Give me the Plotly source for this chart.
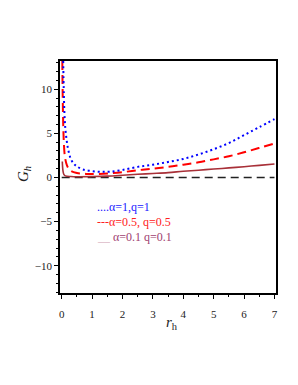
import plotly.graph_objects as go

# Blue dotted: alpha=1, q=1
r_blue = [0.05, 0.07, 0.1, 0.13, 0.2, 0.3, 0.4, 0.5, 0.7, 1.0, 1.3, 1.6, 2.0, 2.5, 3.0, 3.5, 4.0, 4.5, 5.0, 5.5, 6.0, 6.5, 7.0]
g_blue = [13.2, 9.5, 6.5, 5.2, 3.4, 2.1, 1.55, 1.25, 0.9, 0.72, 0.64, 0.66, 0.85, 1.2, 1.45, 1.75, 2.1, 2.6, 3.2, 3.9, 4.8, 5.7, 6.6]

# Red dashed: alpha=0.5, q=0.5
r_red = [0.02, 0.03, 0.05, 0.07, 0.1, 0.15, 0.2, 0.3, 0.5, 0.8, 1.0, 1.5, 2.0, 2.5, 3.0, 3.5, 4.0, 4.5, 5.0, 5.5, 6.0, 6.5, 7.0]
g_red = [13.2, 10.0, 6.0, 4.0, 2.5, 1.6, 1.15, 0.75, 0.5, 0.4, 0.38, 0.45, 0.6, 0.82, 1.0, 1.2, 1.45, 1.72, 2.05, 2.4, 2.85, 3.35, 3.85]

# Solid dark red: alpha=0.1, q=0.1
r_sol = [0.02, 0.04, 0.07, 0.12, 0.3, 0.6, 1.0, 1.5, 2.0, 2.5, 3.0, 3.5, 4.0, 4.5, 5.0, 5.5, 6.0, 6.5, 7.0]
g_sol = [1.8, 0.8, 0.35, 0.18, 0.1, 0.08, 0.1, 0.15, 0.25, 0.36, 0.45, 0.55, 0.7, 0.82, 0.95, 1.08, 1.22, 1.37, 1.52]

# Reference zero line
r_zero = [0, 7]
g_zero = [0, 0]

x_ticks = [0, 1, 2, 3, 4, 5, 6, 7]
y_ticks = [-10, -5, 0, 5, 10]

legend_labels = ["....α=1,q=1", "---α=0.5, q=0.5", "α=0.1 q=0.1"]

serif = "Times New Roman"

# page has 8px body margin; figure is sized to fill the rest
OFF = 8
W, H = 298 - OFF, 385 - OFF
L, R, T, B = 60 - OFF, 22, 61 - OFF, 92

fig = go.Figure()
fig.add_trace(go.Scatter(x=r_zero, y=g_zero, mode="lines",
                         line=dict(color="#222222", width=1.6, dash="8px,5px")))
fig.add_trace(go.Scatter(x=r_sol, y=g_sol, mode="lines", line_shape="spline",
                         line=dict(color="#a83038", width=1.6)))
fig.add_trace(go.Scatter(x=r_red, y=g_red, mode="lines", line_shape="spline",
                         line=dict(color="#ff0000", width=2, dash="9px,5px")))
fig.add_trace(go.Scatter(x=r_blue, y=g_blue, mode="lines", line_shape="spline",
                         line=dict(color="#0000ff", width=2, dash="2px,3px")))

fig.update_layout(
    width=W, height=H,
    margin=dict(l=L, r=R, t=T, b=B),
    paper_bgcolor="white", plot_bgcolor="white",
    showlegend=False,
    font=dict(family=serif, size=11, color="#222222"),
    xaxis=dict(range=[-0.056, 7.05], tickvals=x_ticks, showgrid=False, zeroline=False,
               showline=True, linecolor="black", linewidth=1.5, mirror=True,
               ticks="outside", ticklen=4, tickcolor="black", ticklabelstandoff=6,
               tickfont=dict(family=serif, size=11),
               minor=dict(dtick=0.5, tick0=0, ticks="outside", ticklen=2, tickcolor="black")),
    yaxis=dict(range=[-13.1, 13.2], tickvals=y_ticks, showgrid=False, zeroline=False,
               showline=True, linecolor="black", linewidth=1.5, mirror=True,
               ticks="outside", ticklen=4, tickcolor="black",
               tickfont=dict(family=serif, size=11),
               minor=dict(dtick=1, tick0=0, ticks="outside", ticklen=2, tickcolor="black")),
)

legend_y = [-3.3, -5.05, -6.7]
fig.add_annotation(x=1.1, y=legend_y[0], xref="x", yref="y", text=legend_labels[0],
                   showarrow=False, xanchor="left", font=dict(family=serif, size=12, color="#2020ff"))
fig.add_annotation(x=1.1, y=legend_y[1], xref="x", yref="y", text=legend_labels[1],
                   showarrow=False, xanchor="left", font=dict(family=serif, size=12, color="#ff2020"))
fig.add_annotation(x=1.1, y=legend_y[2], xref="x", yref="y",
                   text="<span style='color:#d8b0c0'>__</span> " + legend_labels[2],
                   showarrow=False, xanchor="left", font=dict(family=serif, size=12, color="#a04070"))

pw = W - L - R
ph = H - T - B


def to_paper(px, py):
    fx, fy = px - OFF, py - OFF
    return (fx - L) / pw, (H - B - fy) / ph


gx, gy = to_paper(24, 174)
fig.add_annotation(x=gx, y=gy, xref="paper", yref="paper", text="<i>G<sub>h</sub></i>",
                   showarrow=False, textangle=-90, xanchor="center", yanchor="middle",
                   font=dict(family=serif, size=15, color="#222222"))
rx, ry = to_paper(172, 312)
fig.add_annotation(x=rx, y=ry, xref="paper", yref="paper", text="<i>r</i><sub>h</sub>",
                   showarrow=False, xanchor="center", yanchor="top",
                   font=dict(family=serif, size=15, color="#222222"))

fig.write_html("out.html")
